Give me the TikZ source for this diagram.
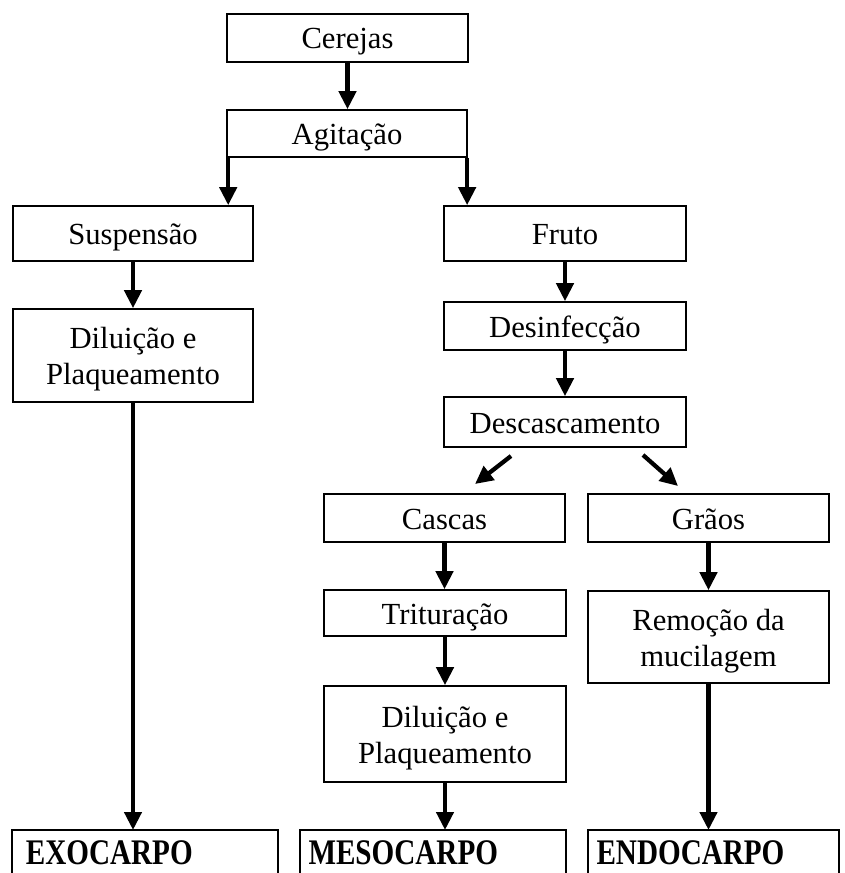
\documentclass[tikz,border=0pt]{standalone}
\usepackage{fontspec}
\setmainfont{Liberation Serif}
\newfontfamily\condbold[FakeStretch=0.81]{Liberation Serif Bold}
\usetikzlibrary{arrows.meta}

\tikzset{every picture/.style={line width=0.75pt}}
\tikzset{
	etapa/.style={draw, line width=1.2pt, inner sep=0pt, align=center,
		text height=16.5pt, text depth=0pt, font=\fontsize{23}{27}\selectfont},
	etapadupla/.style={etapa, text height=43.5pt},
	parte/.style={anchor=north west, inner xsep=6pt, inner ysep=0pt,
		minimum height=32.25pt, text height=18.5pt, text depth=0pt, align=left,
		font=\fontsize{27}{30}\condbold},
	aberta/.style={line width=1.2pt},
	seta/.style={line width=3.2pt, -{Triangle[length=13.5pt,width=12.75pt]}}
}

\begin{document}
\begin{tikzpicture}[x=0.75pt,y=0.75pt,yscale=-1,xscale=1]
	\useasboundingbox (0,0) rectangle (844,873);

	% Text Node
	\node [etapa, minimum width=180.75pt, minimum height=36pt] (cer) at (347.5,38) {Cerejas};
	% Text Node
	\node [etapa, minimum width=180pt, minimum height=35.25pt] (agi) at (347,133.5) {Agitação};
	% Text Node
	\node [etapa, minimum width=180pt, minimum height=41.25pt] (sus) at (133,233.5) {Suspensão};
	% Text Node
	\node [etapadupla, minimum width=180pt, minimum height=69.75pt] (dil1) at (133,355.5) {Diluição e\\Plaqueamento};
	% Text Node
	\node [etapa, minimum width=181.5pt, minimum height=41.25pt] (fru) at (565,233.5) {Fruto};
	% Text Node
	\node [etapa, minimum width=181.5pt, minimum height=36pt] (des) at (565,326) {Desinfecção};
	% Text Node
	\node [etapa, minimum width=181.5pt, minimum height=37.5pt] (dsc) at (565,422) {Descascamento};
	% Text Node
	\node [etapa, minimum width=180.75pt, minimum height=36pt] (cas) at (444.5,518) {Cascas};
	% Text Node
	\node [etapa, minimum width=180.75pt, minimum height=36pt] (gra) at (708.5,518) {Grãos};
	% Text Node
	\node [etapa, minimum width=181.5pt, minimum height=34.5pt] (tri) at (445,613) {Trituração};
	% Text Node
	\node [etapadupla, minimum width=181.5pt, minimum height=72pt] (dil2) at (445,734) {Diluição e\\Plaqueamento};
	% Text Node
	\node [etapadupla, minimum width=180.75pt, minimum height=69pt] (rem) at (708.5,637) {Remoção da\\mucilagem};

	% Text Node
	\node [parte, minimum width=198.75pt, text width=178.75pt, inner xsep=10pt] (exo) at (12,830) {EXOCARPO};
	% Text Node
	\node [parte, minimum width=198.75pt, text width=186.75pt] (meso) at (300,830) {MESOCARPO};
	% Text Node
	\node [parte, minimum width=187.5pt, text width=175.5pt] (endo) at (588,830) {ENDOCARPO};

	%Shape: boxes running off the bottom edge
	\foreach \b in {exo,meso,endo}
		\draw [aberta] (\b.south west) -- (\b.north west) -- (\b.north east) -- (\b.south east);

	% free ends of the slanted arrows
	\coordinate (dl) at (511,456);
	\coordinate (cl) at (475,484);
	\coordinate (dr) at (643,455);
	\coordinate (gr) at (678,486);

	%Straight Lines
	\draw [seta] (cer.south) -- (cer.south |- agi.north);
	\draw [seta] ([xshift=1.5pt]agi.south west) -- ([xshift=1.5pt]agi.south west |- sus.north);
	\draw [seta] ([xshift=-0.5pt]agi.south east) -- ([xshift=-0.5pt]agi.south east |- fru.north);
	\draw [seta] (sus.south) -- (sus.south |- dil1.north);
	\draw [seta] (dil1.south) -- (dil1.south |- exo.north);
	\draw [seta] (fru.south) -- (fru.south |- des.north);
	\draw [seta] (des.south) -- (des.south |- dsc.north);
	\draw [seta] (dl) -- (cl);
	\draw [seta] (dr) -- (gr);
	\draw [seta] (cas.south) -- (cas.south |- tri.north);
	\draw [seta] (tri.south) -- (tri.south |- dil2.north);
	\draw [seta] (dil2.south) -- (dil2.south |- meso.north);
	\draw [seta] (gra.south) -- (gra.south |- rem.north);
	\draw [seta] (rem.south) -- (rem.south |- endo.north);

\end{tikzpicture}
\end{document}
